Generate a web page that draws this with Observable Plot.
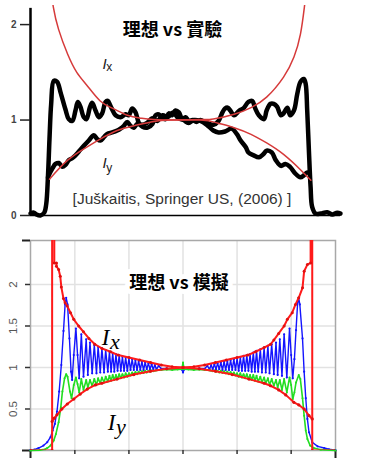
<!DOCTYPE html>
<html><head><meta charset="utf-8">
<script src="https://cdn.jsdelivr.net/npm/d3@7"></script>
<script src="https://cdn.jsdelivr.net/npm/@observablehq/plot@0.6"></script>
<style>
html,body{margin:0;padding:0;background:#fff;}
#chart{width:371px;height:475px;position:relative;overflow:hidden;background:#fff;}
#chart svg{display:block;}
</style></head><body><div id="chart"></div>
<script>
// ---------- TOP PANEL (experiment) ----------
const topXDomain = [-1.146, 1.238];
const topYDomain = [0, 2.2];
const topYTicks = [0, 1, 2];
const topAxisTop = 2.17;

const expIx = [[-1.146,0.02],[-1.12,0.03],[-1.10,0.01],[-1.07,0.0],[-1.04,0.03],[-1.025,0.12],[-1.012,0.40],[-1.0,0.80],[-0.987,1.17],[-0.967,1.41],[-0.941,1.40],[-0.915,1.29],[-0.877,1.11],[-0.852,1.01],[-0.825,0.99],[-0.80,1.10],[-0.782,1.19],[-0.762,1.14],[-0.736,1.03],[-0.715,1.01],[-0.69,1.13],[-0.672,1.18],[-0.646,1.10],[-0.621,1.03],[-0.595,1.07],[-0.569,1.19],[-0.552,1.20],[-0.525,1.13],[-0.492,1.05],[-0.454,1.03],[-0.415,1.06],[-0.39,1.05],[-0.364,1.12],[-0.338,1.08],[-0.313,0.97],[-0.285,0.93],[-0.246,0.92],[-0.208,0.96],[-0.185,1.05],[-0.159,1.06],[-0.133,1.02],[-0.108,1.01],[-0.082,1.07],[-0.056,1.05],[-0.031,1.10],[-0.005,1.08],[0.021,1.01],[0.046,1.03],[0.072,0.99],[0.10,1.0],[0.13,0.98],[0.16,1.0],[0.21,0.97],[0.26,0.95],[0.30,0.99],[0.33,1.08],[0.35,1.12],[0.37,1.13],[0.39,1.10],[0.42,1.05],[0.46,1.10],[0.49,1.12],[0.53,1.19],[0.56,1.20],[0.58,1.13],[0.61,1.05],[0.65,1.01],[0.67,1.10],[0.70,1.17],[0.725,1.17],[0.75,1.14],[0.78,1.05],[0.80,1.07],[0.83,1.13],[0.85,1.05],[0.88,1.10],[0.905,1.27],[0.93,1.40],[0.956,1.43],[0.97,1.38],[0.982,1.10],[0.995,0.68],[1.008,0.30],[1.02,0.09],[1.046,0.02],[1.085,0.02],[1.136,0.035],[1.175,0.01],[1.213,0.03],[1.238,0.02]];

const expIy = [[-1.012,0.40],[-0.995,0.45],[-0.975,0.50],[-0.954,0.54],[-0.928,0.55],[-0.902,0.51],[-0.877,0.53],[-0.852,0.58],[-0.825,0.60],[-0.80,0.63],[-0.787,0.65],[-0.762,0.69],[-0.736,0.73],[-0.698,0.785],[-0.659,0.84],[-0.633,0.80],[-0.608,0.785],[-0.582,0.82],[-0.556,0.855],[-0.518,0.87],[-0.479,0.89],[-0.454,0.91],[-0.428,0.94],[-0.402,0.98],[-0.377,0.94],[-0.351,0.92],[-0.325,0.96],[-0.29,0.95],[-0.25,0.97],[-0.21,1.02],[-0.17,0.99],[-0.13,1.05],[-0.09,1.03],[-0.05,1.08],[-0.01,1.02],[0.03,1.0],[0.07,0.97],[0.11,1.0],[0.16,0.99],[0.21,0.95],[0.26,0.89],[0.30,0.87],[0.35,0.88],[0.40,0.91],[0.44,0.855],[0.47,0.785],[0.51,0.715],[0.53,0.66],[0.57,0.63],[0.61,0.61],[0.65,0.65],[0.67,0.68],[0.71,0.66],[0.74,0.58],[0.78,0.52],[0.815,0.54],[0.85,0.51],[0.89,0.44],[0.93,0.40],[0.956,0.42],[0.98,0.45],[1.0,0.45]];

const theoIxTop = [[-0.985,2.35],[-0.97,2.18],[-0.93,1.95],[-0.86,1.69],[-0.79,1.50],[-0.71,1.36],[-0.61,1.20],[-0.51,1.12],[-0.40,1.05],[-0.30,1.02],[-0.20,1.005],[0,1.0],[0.16,1.005],[0.26,1.01],[0.42,1.06],[0.55,1.13],[0.67,1.24],[0.80,1.45],[0.88,1.66],[0.93,1.90],[0.96,2.18],[0.975,2.35]];
const theoIyTop = [[-1.0,0.38],[-0.86,0.58],[-0.71,0.72],[-0.61,0.80],[-0.48,0.89],[-0.35,0.94],[-0.22,0.98],[-0.09,1.0],[0.16,1.0],[0.29,0.97],[0.42,0.92],[0.55,0.85],[0.67,0.76],[0.80,0.64],[0.93,0.48],[1.01,0.37]];

const topTitle = [{x:-0.054, y:1.94, t:"理想 vs 實驗"}];
const topLabelMain = [{x:-0.577, y:1.59, t:"I"}, {x:-0.577, y:0.545, t:"I"}];
const topLabelSub = [{x:-0.54, y:1.55, t:"x"}, {x:-0.54, y:0.50, t:"y"}];
const topCitation = [{x:0.019, y:0.173, t:"[Juškaitis, Springer US, (2006) ]"}];

// ---------- BOTTOM PANEL (simulation) ----------
const botXDomain = [-2.82, 2.82];
const botYDomain = [0, 2.53];
const botXTicks = [-2, -1, 0, 1, 2];
const botYTicks = [0.5, 1, 1.5, 2];
const botYEnds = [0, 2.53];
const botYLabels = ["0.5", "1", "1.5", "2"];

const simIx = [[-2.82,0.005],[-2.75,0.01],[-2.67,0.03],[-2.58,0.06],[-2.51,0.10],[-2.45,0.16],[-2.41,0.24],[-2.37,0.32],[-2.33,0.47],[-2.29,0.71],[-2.25,1.03],[-2.21,1.44],[-2.18,1.76],[-2.16,1.84],[-2.135,1.76],[-2.10,1.35],[-2.07,0.95],[-2.05,0.85],[-2.02,1.15],[-1.98,1.47],[-1.95,1.15],[-1.92,0.87],[-1.88,1.40],[-1.84,0.89],[-1.79,1.34],[-1.76,0.91],[-1.72,1.30],[-1.68,0.93],[-1.64,1.27],[-1.60,0.93],[-1.57,1.25],[-1.53,0.94],[-1.50,1.23],[-1.46,0.94],[-1.43,1.21],[-1.39,0.95],[-1.36,1.19],[-1.33,0.95],[-1.30,1.17],[-1.27,0.95],[-1.24,1.16],[-1.21,0.96],[-1.18,1.15],[-1.15,0.96],[-1.12,1.13],[-1.09,0.96],[-1.06,1.12],[-1.03,0.96],[-1.00,1.11],[-0.97,0.97],[-0.94,1.10],[-0.91,0.97],[-0.88,1.09],[-0.85,0.97],[-0.82,1.08],[-0.79,0.97],[-0.76,1.07],[-0.73,0.97],[-0.70,1.06],[-0.67,0.98],[-0.64,1.05],[-0.61,0.98],[-0.58,1.04],[-0.55,0.98],[-0.52,1.03],[-0.49,0.98],[-0.45,1.02],[-0.40,0.985],[-0.30,0.99],[-0.20,0.98],[-0.10,0.985],[-0.02,0.975],[0,0.94],[0.02,0.975],[0.10,0.985],[0.20,0.98],[0.30,0.99],[0.40,0.985],[0.45,1.02],[0.49,0.98],[0.52,1.03],[0.55,0.98],[0.58,1.04],[0.61,0.98],[0.64,1.05],[0.67,0.98],[0.70,1.06],[0.73,0.97],[0.76,1.07],[0.79,0.97],[0.82,1.08],[0.85,0.97],[0.88,1.09],[0.91,0.97],[0.94,1.10],[0.97,0.97],[1.00,1.11],[1.03,0.96],[1.06,1.12],[1.09,0.96],[1.12,1.14],[1.15,0.96],[1.18,1.15],[1.21,0.96],[1.24,1.16],[1.27,0.95],[1.30,1.18],[1.33,0.95],[1.36,1.20],[1.39,0.95],[1.43,1.22],[1.46,0.94],[1.50,1.24],[1.53,0.94],[1.57,1.26],[1.60,0.93],[1.64,1.28],[1.68,0.92],[1.72,1.30],[1.75,0.91],[1.79,1.34],[1.83,0.90],[1.87,1.40],[1.92,0.88],[1.97,1.47],[2.00,1.15],[2.03,0.87],[2.06,1.10],[2.09,1.45],[2.12,1.78],[2.14,1.84],[2.16,1.76],[2.21,1.35],[2.24,0.95],[2.27,0.63],[2.30,0.38],[2.33,0.22],[2.39,0.10],[2.49,0.05],[2.61,0.03],[2.70,0.015],[2.82,0.005]];

const simIy = [[-2.82,0.0],[-2.65,0.005],[-2.55,0.015],[-2.51,0.03],[-2.45,0.06],[-2.39,0.12],[-2.35,0.20],[-2.30,0.34],[-2.26,0.52],[-2.23,0.71],[-2.19,0.87],[-2.16,0.92],[-2.135,0.89],[-2.09,0.71],[-2.06,0.63],[-2.02,0.79],[-1.98,0.88],[-1.95,0.80],[-1.92,0.70],[-1.88,0.86],[-1.84,0.73],[-1.79,0.85],[-1.76,0.76],[-1.72,0.85],[-1.68,0.78],[-1.64,0.86],[-1.60,0.79],[-1.57,0.87],[-1.53,0.81],[-1.50,0.88],[-1.46,0.82],[-1.43,0.89],[-1.39,0.83],[-1.36,0.90],[-1.33,0.84],[-1.30,0.91],[-1.27,0.85],[-1.24,0.91],[-1.21,0.86],[-1.18,0.92],[-1.15,0.87],[-1.12,0.92],[-1.09,0.88],[-1.06,0.93],[-1.03,0.89],[-1.00,0.93],[-0.97,0.905],[-0.94,0.94],[-0.91,0.915],[-0.88,0.945],[-0.85,0.92],[-0.82,0.95],[-0.79,0.93],[-0.76,0.955],[-0.73,0.935],[-0.70,0.96],[-0.67,0.94],[-0.64,0.96],[-0.61,0.95],[-0.58,0.965],[-0.55,0.955],[-0.50,0.965],[-0.40,0.97],[-0.30,0.975],[-0.20,0.97],[-0.10,0.975],[-0.02,0.98],[0,1.06],[0.02,0.98],[0.10,0.975],[0.20,0.97],[0.30,0.975],[0.40,0.97],[0.50,0.965],[0.55,0.955],[0.58,0.965],[0.61,0.95],[0.64,0.96],[0.67,0.94],[0.70,0.96],[0.73,0.935],[0.76,0.955],[0.79,0.93],[0.82,0.95],[0.85,0.92],[0.88,0.945],[0.91,0.915],[0.94,0.94],[0.97,0.905],[1.00,0.93],[1.03,0.89],[1.06,0.93],[1.09,0.88],[1.12,0.92],[1.15,0.87],[1.18,0.92],[1.21,0.86],[1.24,0.91],[1.27,0.85],[1.30,0.91],[1.33,0.84],[1.36,0.90],[1.39,0.83],[1.43,0.89],[1.46,0.82],[1.50,0.88],[1.53,0.81],[1.57,0.87],[1.60,0.79],[1.64,0.86],[1.68,0.78],[1.72,0.85],[1.75,0.76],[1.79,0.85],[1.83,0.73],[1.87,0.86],[1.92,0.70],[1.97,0.88],[2.00,0.79],[2.03,0.62],[2.06,0.70],[2.09,0.82],[2.14,0.91],[2.17,0.86],[2.21,0.63],[2.24,0.42],[2.27,0.24],[2.30,0.14],[2.35,0.06],[2.42,0.03],[2.55,0.01],[2.82,0.0]];

const theoIxBot = [[-2.82,0],[-2.42,0],[-2.42,2.6],[-2.38,2.6],[-2.38,2.26],[-2.34,2.26],[-2.34,2.22],[-2.30,2.18],[-2.27,2.10],[-2.25,1.97],[-2.21,1.83],[-2.18,1.78],[-2.14,1.74],[-2.08,1.66],[-2.02,1.58],[-1.93,1.50],[-1.84,1.43],[-1.74,1.35],[-1.63,1.28],[-1.50,1.23],[-1.34,1.19],[-1.20,1.15],[-1.00,1.12],[-0.80,1.09],[-0.60,1.06],[-0.40,1.03],[-0.20,1.01],[0,1.0],[0.20,1.01],[0.40,1.03],[0.60,1.06],[0.80,1.09],[1.00,1.12],[1.20,1.15],[1.34,1.19],[1.50,1.24],[1.62,1.28],[1.68,1.33],[1.77,1.41],[1.87,1.50],[1.93,1.58],[2.02,1.66],[2.08,1.76],[2.14,1.84],[2.21,1.96],[2.24,2.16],[2.30,2.24],[2.36,2.26],[2.36,2.6],[2.39,2.6],[2.39,0],[2.82,0]];

const theoIyBot = [[-2.42,0.35],[-2.38,0.39],[-2.33,0.43],[-2.24,0.50],[-2.14,0.56],[-2.02,0.62],[-1.90,0.68],[-1.77,0.74],[-1.62,0.79],[-1.50,0.81],[-1.22,0.86],[-0.91,0.915],[-0.60,0.955],[-0.30,0.985],[0,1.0],[0.30,0.985],[0.60,0.955],[0.91,0.915],[1.22,0.86],[1.50,0.81],[1.62,0.78],[1.77,0.73],[1.90,0.67],[2.05,0.58],[2.14,0.55],[2.24,0.50],[2.33,0.42],[2.39,0.38]];

const botTitle = [{x:-0.074, y:2.02, t:"理想 vs 模擬"}];
const botLabelMain = [{x:-1.43, y:1.36, t:"I"}, {x:-1.32, y:0.33, t:"I"}];
const botLabelSub = [{x:-1.26, y:1.31, t:"x"}, {x:-1.15, y:0.28, t:"y"}];

const sans = "'Liberation Sans', Arial, sans-serif";
const cjk = "'Noto Sans CJK TC', 'Noto Sans CJK SC', sans-serif";
const serif = "'Liberation Serif', 'Times New Roman', serif";

const topPlot = Plot.plot({
  width: 371, height: 230,
  marginLeft: 30, marginRight: 31, marginTop: 5, marginBottom: 15,
  x: {domain: topXDomain, axis: null},
  y: {domain: topYDomain, axis: null},
  style: {background: "white", overflow: "visible"},
  marks: [
    Plot.line(expIx, {stroke: "#000", strokeWidth: 4.5, curve: "catmull-rom", strokeLinejoin: "round"}),
    Plot.line(expIy, {stroke: "#000", strokeWidth: 4.5, curve: "catmull-rom", strokeLinejoin: "round"}),
    Plot.line(theoIxTop, {stroke: "#d63a3a", strokeWidth: 1.5, curve: "natural", clip: true}),
    Plot.line(theoIyTop, {stroke: "#d63a3a", strokeWidth: 1.5, curve: "natural"}),
    Plot.ruleX([topXDomain[0]], {y1: topYDomain[0], y2: topAxisTop, stroke: "#000", strokeWidth: 2.5}),
    Plot.ruleY([0], {stroke: "#000", strokeWidth: 1.6}),
    Plot.axisY({ticks: topYTicks, tickSize: 10, tickPadding: 4, tickFormat: d => String(d), fontSize: 10, fontWeight: "bold", fill: "#444", stroke: "#222", strokeWidth: 1.5, fontFamily: sans, label: null}),
    Plot.text(topTitle, {x: "x", y: "y", text: "t", fontSize: 18, fontWeight: "bold", fontFamily: cjk, fill: "#000"}),
    Plot.text(topLabelMain, {x: "x", y: "y", text: "t", fontSize: 15, fontStyle: "italic", fontFamily: sans, fill: "#222"}),
    Plot.text(topLabelSub, {x: "x", y: "y", text: "t", fontSize: 12, fontFamily: sans, fill: "#222"}),
    Plot.text(topCitation, {x: "x", y: "y", text: "t", fontSize: 15.5, fontFamily: sans, fill: "#333"})
  ]
});

const botPlot = Plot.plot({
  width: 371, height: 245,
  marginLeft: 30, marginRight: 36, marginTop: 10, marginBottom: 25,
  x: {domain: botXDomain, axis: null},
  y: {domain: botYDomain, axis: null},
  style: {background: "white", overflow: "visible"},
  marks: [
    Plot.gridX({ticks: botXTicks, stroke: "#e2e2e2", strokeOpacity: 1, strokeWidth: 1.5}),
    Plot.gridY({ticks: botYTicks, stroke: "#e2e2e2", strokeOpacity: 1, strokeWidth: 1.5}),
    Plot.frame({stroke: "#a8a8a8", strokeWidth: 1.5}),
    Plot.axisX({ticks: botXTicks, tickSize: 4, tickFormat: () => "", stroke: "#333", strokeWidth: 1.5, label: null}),
    Plot.axisX({ticks: botXDomain, tickSize: 8, tickFormat: () => "", stroke: "#222", strokeWidth: 2, label: null}),
    Plot.axisY({ticks: botYTicks, tickSize: 5, tickFormat: () => "", stroke: "#333", strokeWidth: 1.5, label: null}),
    Plot.axisY({ticks: botYEnds, tickSize: 8, tickFormat: () => "", stroke: "#222", strokeWidth: 2, label: null}),
    Plot.text(botYTicks, {x: botXDomain[0], y: d => d, text: (d, i) => botYLabels[i], rotate: -90, dx: -17, fontSize: 11.5, fontFamily: sans, fill: "#555", textAnchor: "middle"}),
    Plot.line(simIx, {stroke: "#1414ff", strokeWidth: 1.4}),
    Plot.dot(simIx, {r: 1.1, fill: "#1414ff"}),
    Plot.line(simIy, {stroke: "#22dd22", strokeWidth: 1.6}),
    Plot.dot(simIy, {r: 1.0, fill: "#22dd22"}),
    Plot.line(theoIxBot, {stroke: "#ff1a1a", strokeWidth: 2, clip: true}),
    Plot.dot(theoIxBot, {r: 1.5, fill: "#e01010", clip: true}),
    Plot.line(theoIyBot, {stroke: "#ff1a1a", strokeWidth: 2}),
    Plot.dot(theoIyBot, {r: 1.6, fill: "#e01010"}),
    Plot.text(botTitle, {x: "x", y: "y", text: "t", fontSize: 18, fontWeight: "bold", fontFamily: cjk, fill: "#000", stroke: "white", strokeWidth: 10}),
    Plot.text(botLabelMain, {x: "x", y: "y", text: "t", fontSize: 23, fontStyle: "italic", fontFamily: serif, fill: "#000"}),
    Plot.text(botLabelSub, {x: "x", y: "y", text: "t", fontSize: 22, fontStyle: "italic", fontFamily: serif, fill: "#000"})
  ]
});

const chart = document.getElementById("chart");
chart.appendChild(topPlot);
chart.appendChild(botPlot);
</script>
</body></html>
